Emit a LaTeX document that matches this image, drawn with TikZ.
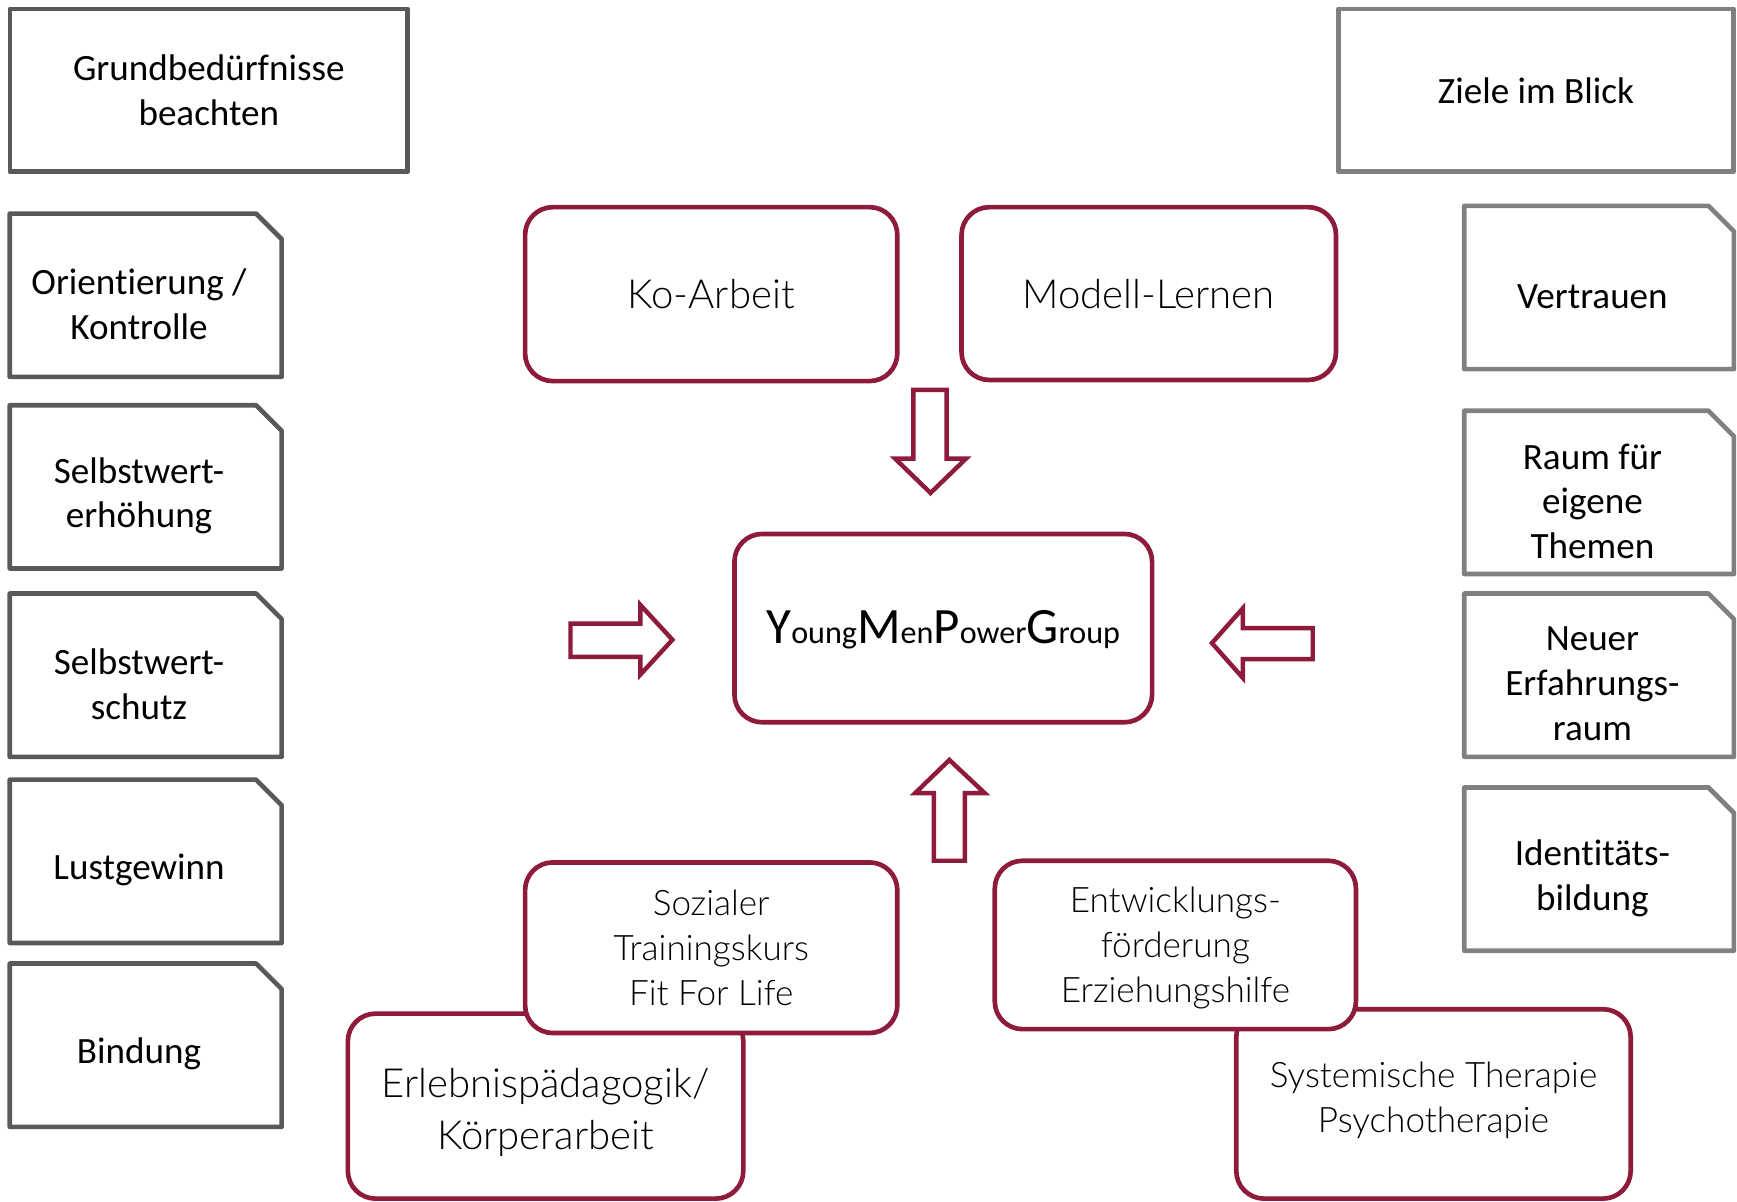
\documentclass[tikz,border=0pt]{standalone}
\usepackage{fontspec}
\setmainfont{Carlito}[Ligatures={NoCommon}]
\newfontfamily\lightfont{Lato Light}[Ligatures={NoCommon}]
\definecolor{ymred}{HTML}{8E1B3B}
\definecolor{dgray}{HTML}{595959}
\definecolor{lgray}{HTML}{808080}
\newcommand{\BigLetter}[1]{{\fontsize{46}{48}\selectfont #1}}
\newcommand{\SmallPart}[1]{{\fontsize{29}{31}\selectfont #1}}
\newcommand{\SnipBox}[7]{%
  \node[inner sep=0pt, minimum width={(#4-#2)*1pt}, minimum height={(#5-#3)*1pt}] (#1) at ({(#2+#4)/2},{(#3+#5)/2}) {};
  \draw[draw=#7, line width=4.2pt, line join=round, fill=white] (#1.north west) -- ([xshift=-23pt]#1.north east) -- ([yshift=-23pt]#1.north east) -- (#1.south east) -- (#1.south west) -- cycle;
  \node[graytext] (#1t) at ([xshift=-6pt,yshift=-8pt]#1.center) {#6};
}
\begin{document}
\begin{tikzpicture}[x=1pt,y=-1pt,
  graytext/.style={font=\fontsize{33.5}{40.5}\selectfont, align=center, inner sep=0pt},
  plainbox/.style={draw=#1, line width=4.2pt, line join=round, fill=white, inner sep=0pt, align=center, font=\fontsize{33.5}{40.5}\selectfont},
  redbox/.style={draw=ymred, line width=4.2pt, rounded corners=25pt, fill=white, inner sep=0pt, align=center},
  redbig/.style={font=\lightfont\fontsize{36.2}{47}\selectfont},
  redsmall/.style={font=\lightfont\fontsize{31.7}{40.5}\selectfont},
  blockarrow/.style={draw=ymred, line width=4pt, fill=white, line join=miter}
]
\useasboundingbox (0,0) rectangle (1568,1085);

% top gray boxes
\node[plainbox=dgray, minimum width=359pt, minimum height=147pt] (grund) at (188.5,81.5) {Grundbedürfnisse\\beachten};
\node[plainbox=lgray, minimum width=357pt, minimum height=147pt] (ziele) at (1386.5,81.5) {Ziele im Blick};

% left column
\SnipBox{l1}{9}{193}{254}{340}{Orientierung /\\Kontrolle}{dgray}
\SnipBox{l2}{9}{366}{254}{513}{Selbstwert-\\erhöhung}{dgray}
\SnipBox{l3}{9}{536}{254}{683}{Selbstwert-\\schutz}{dgray}
\SnipBox{l4}{9}{704}{254}{851}{Lustgewinn}{dgray}
\SnipBox{l5}{9}{870}{254}{1017}{Bindung}{dgray}

% right column
\SnipBox{r1}{1322}{186}{1565}{333}{Vertrauen}{lgray}
\SnipBox{r2}{1322}{371}{1565}{518}{Raum für\\eigene\\Themen}{lgray}
\SnipBox{r3}{1322}{536}{1565}{683}{Neuer\\Erfahrungs-\\raum}{lgray}
\SnipBox{r4}{1322}{711}{1565}{858}{Identitäts-\\bildung}{lgray}

% red boxes
\node[redbox, redbig, minimum width=336pt, minimum height=157pt] (ko) at (642,265.5) {Ko-Arbeit};
\node[redbox, redbig, minimum width=338pt, minimum height=156pt] (modell) at (1037,265) {Modell-Lernen};
\node[redbox, minimum width=377pt, minimum height=170pt] (ympg) at (851.5,567) {};
\node[inner sep=0pt] (ympgt) at (851.5,568) {\BigLetter{Y}\SmallPart{oung}\BigLetter{M}\SmallPart{en}\BigLetter{P}\SmallPart{ower}\BigLetter{G}\SmallPart{roup}};

\node[redbox, minimum width=357pt, minimum height=167pt] (erleb) at (492.5,998.5) {};
\node[redbig, align=center, inner sep=0pt] (erlebt) at (492.5,1004) {Erlebnispädagogik/\\Körperarbeit};
\node[redbox, redsmall, minimum width=336pt, minimum height=154pt] (sozial) at (642,855.5) {Sozialer\\Trainingskurs\\Fit For Life};

\node[redbox, minimum width=356pt, minimum height=171pt] (system) at (1294,996.5) {};
\node[redsmall, align=center, inner sep=0pt] (systemt) at (1294,993) {Systemische Therapie\\Psychotherapie};
\node[redbox, minimum width=326pt, minimum height=152pt] (entw) at (1061,853) {};
\node[redsmall, align=center, inner sep=0pt] (entwt) at (1061,856) {Entwicklungs-\\förderung\\Erziehungshilfe};

% block arrows
\draw[blockarrow] (824.5,352) -- (854.5,352) -- (854.5,414) -- (872,414) -- (840,445) -- (808,414) -- (824.5,414) -- cycle;
\draw[blockarrow] (515,563) -- (578,563) -- (578,546) -- (607,577.5) -- (578,609) -- (578,593) -- (515,593) -- cycle;
\draw[blockarrow] (1185,567) -- (1122,567) -- (1122,549) -- (1094,580.5) -- (1122,612) -- (1122,595) -- (1185,595) -- cycle;
\draw[blockarrow] (843,777) -- (843,716) -- (826,716) -- (857,686) -- (889,716) -- (871,716) -- (871,777) -- cycle;
\end{tikzpicture}
\end{document}
